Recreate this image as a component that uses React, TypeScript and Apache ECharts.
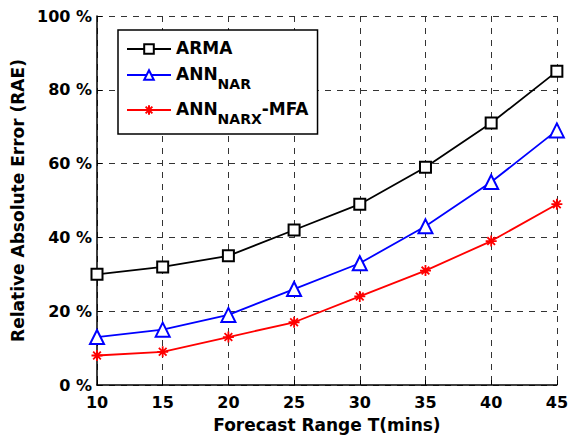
import React, { useEffect, useRef } from "react";
import * as echarts from "echarts";

const categories = [10, 15, 20, 25, 30, 35, 40, 45];
const arma = [30, 32, 35, 42, 49, 59, 71, 85];
const annNar = [13, 15, 19, 26, 33, 43, 55, 69];
const annNarxMfa = [8, 9, 13, 17, 24, 31, 39, 49];
const seriesNames = ["ARMA", "ANN_NAR", "ANN_NARX-MFA"];

const FONT = "DejaVu Sans, sans-serif";
const star = "path://M0,-10 L0,10 M-10,0 L10,0 M-7,-7 L7,7 M-7,7 L7,-7";

export default function App() {
  const ref = useRef<HTMLDivElement>(null);
  useEffect(() => {
    document.body.style.margin = "0";
    const chart = echarts.init(ref.current!, null, { renderer: "svg" });
    const pts = (arr: number[]) => categories.map((c, i) => [c, arr[i]]);
    chart.setOption({
      animation: false,
      backgroundColor: "#fff",
      grid: { left: 97, right: 14, top: 16, bottom: 49 },
      xAxis: {
        type: "value",
        min: 10,
        max: 45,
        interval: 5,
        name: "Forecast Range T(mins)",
        nameLocation: "middle",
        nameGap: 31,
        nameTextStyle: { fontFamily: FONT, fontWeight: "bold", fontSize: 17, color: "#000" },
        axisLine: { show: true, lineStyle: { color: "#000", width: 1.5 } },
        axisTick: { show: true, inside: true, length: 5, lineStyle: { color: "#000" } },
        axisLabel: { fontFamily: FONT, fontWeight: "bold", fontSize: 16, color: "#000", margin: 9 },
        splitLine: { show: true, lineStyle: { color: "#333", type: [6, 6], width: 1 } },
      },
      yAxis: {
        type: "value",
        min: 0,
        max: 100,
        interval: 20,
        name: "Relative Absolute Error (RAE)",
        nameLocation: "middle",
        nameGap: 71,
        nameTextStyle: { fontFamily: FONT, fontWeight: "bold", fontSize: 17, color: "#000" },
        axisLine: { show: true, lineStyle: { color: "#000", width: 1.5 } },
        axisTick: { show: true, inside: true, length: 5, lineStyle: { color: "#000" } },
        axisLabel: {
          fontFamily: FONT,
          fontWeight: "bold",
          fontSize: 16,
          color: "#000",
          margin: 5,
          formatter: (v: number) => `${v} %`,
        },
        splitLine: { show: true, lineStyle: { color: "#333", type: [6, 6], width: 1 } },
      },
      legend: {
        left: 118,
        top: 30,
        orient: "vertical",
        itemWidth: 44,
        itemHeight: 12,
        itemGap: 9,
        padding: [9, 9, 8, 8],
        backgroundColor: "#fff",
        borderColor: "#000",
        borderWidth: 1.5,
        data: seriesNames,
        formatter: (name: string) => {
          if (name === "ARMA") return "{m|ARMA}";
          if (name === "ANN_NAR") return "{m|ANN}{s|NAR}";
          return "{m|ANN}{s|NARX}{m|-MFA}";
        },
        textStyle: {
          rich: {
            m: { fontFamily: FONT, fontWeight: "bold", fontSize: 17, color: "#000", verticalAlign: "top", lineHeight: 20 },
            s: { fontFamily: FONT, fontWeight: "bold", fontSize: 14, color: "#000", verticalAlign: "top", padding: [12, 0, 0, 0], lineHeight: 16 },
          },
        },
      },
      series: [
        {
          name: "ARMA",
          type: "line",
          data: pts(arma),
          symbol: "emptyRect",
          symbolSize: 11,
          color: "#000",
          lineStyle: { color: "#000", width: 1.8 },
          itemStyle: { color: "#000", borderWidth: 1.5 },
        },
        {
          name: "ANN_NAR",
          type: "line",
          data: pts(annNar),
          symbol: "emptyTriangle",
          symbolSize: 14,
          color: "#0000ff",
          lineStyle: { color: "#0000ff", width: 1.8 },
          itemStyle: { color: "#0000ff", borderWidth: 1.8 },
        },
        {
          name: "ANN_NARX-MFA",
          type: "line",
          data: pts(annNarxMfa),
          symbol: star,
          symbolSize: 11,
          color: "#ff0000",
          lineStyle: { color: "#ff0000", width: 1.8 },
          itemStyle: { color: "#ff0000", borderColor: "#ff0000", borderWidth: 1.8 },
        },
      ],
    });
    return () => chart.dispose();
  }, []);
  return <div ref={ref} style={{ width: 571, height: 438 }} />;
}
